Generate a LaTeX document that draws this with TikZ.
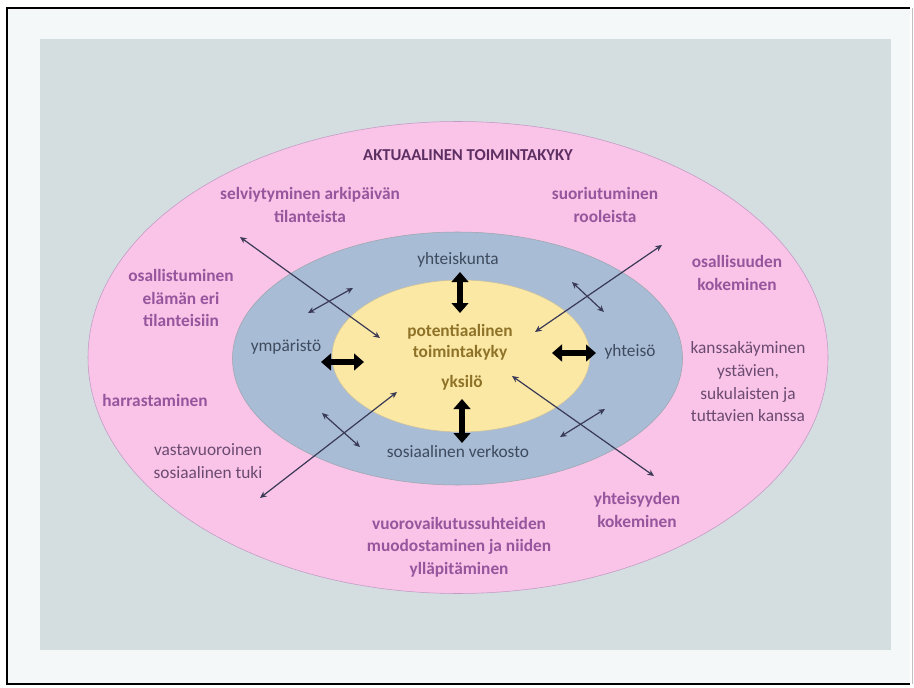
\documentclass[tikz,border=0pt]{standalone}
\usepackage{fontspec}
\setmainfont{Carlito}
\usetikzlibrary{arrows.meta}
\definecolor{kehys}{HTML}{F5F8F9}
\definecolor{pohja}{HTML}{D4DDE0}
\definecolor{pinkki}{HTML}{F9C4E7}
\definecolor{sini}{HTML}{A8BCD5}
\definecolor{keltainen}{HTML}{FBE8A4}
\definecolor{lila}{HTML}{96559C}
\definecolor{tummalila}{HTML}{5C2E62}
\definecolor{harmaalila}{HTML}{6B4A71}
\definecolor{liuske}{HTML}{3E4B5E}
\definecolor{oliivi}{HTML}{8E7228}
\definecolor{nuoli}{HTML}{3A3A56}
\tikzset{
  teksti/.style={align=center,inner sep=0pt,font=\fontsize{13}{17}\selectfont},
  ulko/.style={teksti,text=lila,font=\bfseries\fontsize{13}{17}\selectfont},
  ulkoohut/.style={teksti,text=harmaalila},
  keski/.style={teksti,text=liuske},
  sisa/.style={teksti,text=oliivi,font=\bfseries\fontsize{13}{16}\selectfont},
  ohut/.style={nuoli,line width=.9pt,{Stealth[length=5pt,width=4.5pt]}-{Stealth[length=5pt,width=4.5pt]}},
  paksu/.style={line width=4.2pt,{Triangle[length=7.5pt,width=12.5pt]}-{Triangle[length=7.5pt,width=12.5pt]}}
}
\begin{document}
\begin{tikzpicture}[x=.75pt,y=-.75pt]
  \useasboundingbox (0,0) rectangle (914,688);
  \fill[kehys] (7,8) rectangle (910,684);
  \draw[line width=1.6pt] (910,8) -- (7,8) -- (7,684) -- (910,684);
  \draw[black!25] (912,8) -- (912,684);
  \fill[pohja] (40,39) rectangle (891,650);
  % renkaat
  \filldraw[fill=pinkki,draw=lila!60,thin] (458,357.5) ellipse [x radius=370,y radius=236];
  \filldraw[fill=sini,draw=liuske!50,thin] (457.5,358.5) ellipse [x radius=225,y radius=126.5];
  \filldraw[fill=keltainen,draw=oliivi!45,thin] (461,356) ellipse [x radius=129,y radius=76];

  \node[teksti,text=tummalila,font=\bfseries\fontsize{12.5}{15}\selectfont] (aktuaalinen) at (468,155) {AKTUAALINEN TOIMINTAKYKY};
  \node[ulko] (selviytyminen) at (310,205) {selviytyminen arkipäivän\\tilanteista};
  \node[ulko] (suoriutuminen) at (605,205) {suoriutuminen\\rooleista};
  \node[ulko] (osallistuminen) at (181,298) {osallistuminen\\elämän eri\\tilanteisiin};
  \node[ulko] (osallisuus) at (737,273) {osallisuuden\\kokeminen};
  \node[ulko] (harrastaminen) at (155,400) {harrastaminen};
  \node[ulkoohut] (kanssakayminen) at (748,382) {kanssakäyminen\\ystävien,\\sukulaisten ja\\tuttavien kanssa};
  \node[ulkoohut] (vastavuoroinen) at (208,461) {vastavuoroinen\\sosiaalinen tuki};
  \node[ulko] (yhteisyys) at (637,510) {yhteisyyden\\kokeminen};
  \node[ulko] (vuorovaikutus) at (459,547) {vuorovaikutussuhteiden\\muodostaminen ja niiden\\ylläpitäminen};

  \node[keski] (yhteiskunta) at (458,260) {yhteiskunta};
  \node[keski] (ymparisto) at (286,347) {ympäristö};
  \node[keski] (yhteiso) at (630,352) {yhteisö};
  \node[keski] (verkosto) at (458,452) {sosiaalinen verkosto};
  \node[sisa] (potentiaalinen) at (460,342.5) {potentiaalinen\\toimintakyky};
  \node[sisa] (yksilo) at (462,383) {yksilö};

  % nuolten päät
  \coordinate (ya) at (460,272); \coordinate (yb) at (460,313);
  \coordinate (aa) at (462,399); \coordinate (ab) at (462,443);
  \coordinate (va) at (321,362); \coordinate (vb) at (364,362);
  \coordinate (oa) at (552,353); \coordinate (ob) at (596,353);
  \coordinate (vy1) at (240,237); \coordinate (vy2) at (380,338);
  \coordinate (oy1) at (662,245); \coordinate (oy2) at (535,332);
  \coordinate (va1) at (260,498); \coordinate (va2) at (397,392);
  \coordinate (oa1) at (654,476); \coordinate (oa2) at (512,376);
  \coordinate (vy3) at (308,313); \coordinate (vy4) at (353,288);
  \coordinate (oy3) at (572,282); \coordinate (oy4) at (604,312);
  \coordinate (va3) at (322,413); \coordinate (va4) at (360,447);
  \coordinate (oa3) at (560,437); \coordinate (oa4) at (605,409);

  \foreach \a/\b in {ya/yb,aa/ab,va/vb,oa/ob}
    \draw[paksu] (\a)--(\b);
  \foreach \a/\b in {vy1/vy2,oy1/oy2,va1/va2,oa1/oa2,vy3/vy4,oy3/oy4,va3/va4,oa3/oa4}
    \draw[ohut] (\a)--(\b);
\end{tikzpicture}
\end{document}
